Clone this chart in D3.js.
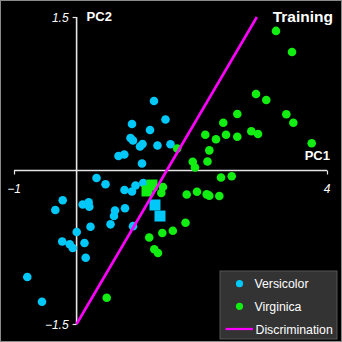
<!DOCTYPE html>
<html>
<head>
<meta charset="utf-8">
<script src="https://cdn.jsdelivr.net/npm/d3@7"></script>
<style>
html,body{margin:0;padding:0;background:#000;}
svg{display:block;}
text{font-family:"Liberation Sans",Arial,sans-serif;fill:#fff;}
</style>
</head>
<body>
<script>
// ---- data (PC1, PC2) ----
const versicolorX = [1.236,1.420,0.885,1.173,0.861,0.901,1.013,1.053,1.292,1.500,0.669,0.762,1.045,0.318,0.462,0.765,0.885,0.941,1.065,-0.222,-0.340,0.097,0.193,0.203,0.773,0.613,0.597,0.222,0.542,0.901,0.002,-0.230,-0.110,-0.062,0.126,0.145,-0.788,-0.553];
const versicolorY = [0.679,0.499,0.455,0.396,0.318,0.293,0.235,0.259,0.244,0.256,0.142,0.156,0.068,-0.073,-0.135,-0.191,-0.205,-0.147,-0.122,-0.291,-0.386,-0.332,-0.311,-0.354,-0.369,-0.391,-0.445,-0.549,-0.526,-0.544,-0.601,-0.694,-0.720,-0.758,-0.709,-0.852,-1.041,-1.283];
const virginicaX = [3.185,3.441,2.866,3.030,3.350,3.462,2.567,2.343,2.387,2.056,2.227,2.567,2.791,2.898,3.756,2.120,2.091,1.855,1.891,1.607,2.307,2.478,1.759,1.923,2.078,2.120,2.280,1.740,1.537,1.369,1.160,1.241,1.300,0.481,1.380,1.353];
const virginicaY = [1.364,1.158,0.748,0.689,0.549,0.467,0.552,0.467,0.350,0.350,0.305,0.330,0.383,0.357,0.266,0.197,0.088,0.086,0.029,0.215,-0.068,-0.056,-0.235,-0.207,-0.233,-0.246,-0.249,-0.511,-0.589,-0.611,-0.655,-0.770,-0.806,-1.243,-0.161,-0.220];
// highlighted (square) samples
const versicolorSqX = [1.252,1.332];
const versicolorSqY = [-0.337,-0.445];
const virginicaSqX = [1.125,1.204];
const virginicaSqY = [-0.200,-0.142];
// discrimination line end points
const discX = [0, 2.88];
const discY = [-1.5, 1.5];
const xTicks = [-1, 4];
const yTicks = [-1.5, 1.5];
const legendLabels = ["Versicolor","Virginica","Discrimination"];

const W = 342, H = 342;
const cyan = "#00c8f8", green = "#12ee12", magenta = "#ff00ff", axisCol = "#e6e6e6";

const svg = d3.select("body").append("svg").attr("width", W).attr("height", H);
svg.append("rect").attr("x",0.5).attr("y",0.5).attr("width",W-1).attr("height",H-1)
  .attr("fill","#000").attr("stroke","#8a8a8a").attr("stroke-width",1);

const x = d3.scaleLinear().domain([-1,4]).range([14,327]);
const y = d3.scaleLinear().domain([-1.5,1.5]).range([324,17]);

// axes
const gx = svg.append("g").attr("transform",`translate(0,${y(0)})`)
  .call(d3.axisBottom(x).tickValues(xTicks).tickSize(4).tickFormat(""));
const gy = svg.append("g").attr("transform",`translate(${x(0)},0)`)
  .call(d3.axisLeft(y).tickValues(yTicks).tickSize(4).tickFormat(""));
[gx,gy].forEach(g=>{
  g.selectAll("path.domain").attr("stroke",axisCol).attr("stroke-width",1.6);
  g.selectAll(".tick line").attr("stroke",axisCol).attr("stroke-width",1.2);
});
gx.select("path.domain").attr("d",`M${x(-1)},0H${x(4)}`);
gy.select("path.domain").attr("d",`M0,${y(1.5)}V${y(-1.5)}`);

// tick labels
svg.selectAll("text.xt").data(xTicks).enter().append("text")
  .attr("x",d=>x(d)).attr("y",y(0)+22).attr("text-anchor","middle")
  .attr("font-size",12).attr("font-style","italic").text(d=>d3.format("d")(d));
svg.selectAll("text.yt").data(yTicks).enter().append("text")
  .attr("x",x(0)-8).attr("y",d=>y(d)+5).attr("text-anchor","end")
  .attr("font-size",12).attr("font-style","italic").text(d=>d3.format(".1f")(d));

svg.append("text").attr("x",x(0)+10).attr("y",y(1.5)+4).attr("font-size",13).attr("font-weight","bold").text("PC2");
svg.append("text").attr("x",x(4)+3).attr("y",y(0)-11).attr("text-anchor","end").attr("font-size",13).attr("font-weight","bold").text("PC1");
svg.append("text").attr("x",333).attr("y",22).attr("text-anchor","end").attr("font-size",15.5).attr("font-weight","bold").text("Training");

// points
const vers = versicolorX.map((v,i)=>({x:v,y:versicolorY[i]}));
const virg = virginicaX.map((v,i)=>({x:v,y:virginicaY[i]}));
svg.append("g").selectAll("circle").data(vers).enter().append("circle")
  .attr("cx",d=>x(d.x)).attr("cy",d=>y(d.y)).attr("r",4.3).attr("fill",cyan);
svg.append("g").selectAll("circle").data(virg).enter().append("circle")
  .attr("cx",d=>x(d.x)).attr("cy",d=>y(d.y)).attr("r",4.3).attr("fill",green);

const sq = 11;
const versSq = versicolorSqX.map((v,i)=>({x:v,y:versicolorSqY[i]}));
const virgSq = virginicaSqX.map((v,i)=>({x:v,y:virginicaSqY[i]}));
svg.append("g").selectAll("rect").data(versSq).enter().append("rect")
  .attr("x",d=>x(d.x)-sq/2).attr("y",d=>y(d.y)-sq/2).attr("width",sq).attr("height",sq).attr("fill",cyan);
svg.append("g").selectAll("rect").data(virgSq).enter().append("rect")
  .attr("x",d=>x(d.x)-sq/2).attr("y",d=>y(d.y)-sq/2).attr("width",sq).attr("height",sq).attr("fill",green);

// discrimination line
svg.append("line").attr("x1",x(discX[0])).attr("y1",y(discY[0])).attr("x2",x(discX[1])).attr("y2",y(discY[1]))
  .attr("stroke",magenta).attr("stroke-width",2.6);

// legend
const lg = svg.append("g").attr("transform","translate(220,271)");
lg.append("rect").attr("width",117).attr("height",68).attr("fill","#333").attr("stroke","#555").attr("stroke-width",1);
lg.append("circle").attr("cx",19.5).attr("cy",12.7).attr("r",3.6).attr("fill",cyan);
lg.append("circle").attr("cx",19.5).attr("cy",35.3).attr("r",3.6).attr("fill",green);
lg.append("line").attr("x1",5.5).attr("x2",33).attr("y1",58).attr("y2",58).attr("stroke",magenta).attr("stroke-width",2.2);
lg.selectAll("text").data(legendLabels).enter().append("text")
  .attr("x",(d,i)=>i<2?34.5:35.5).attr("y",(d,i)=>[17,39.5,62.5][i]).attr("font-size",12.3).text(d=>d);
</script>
</body>
</html>
